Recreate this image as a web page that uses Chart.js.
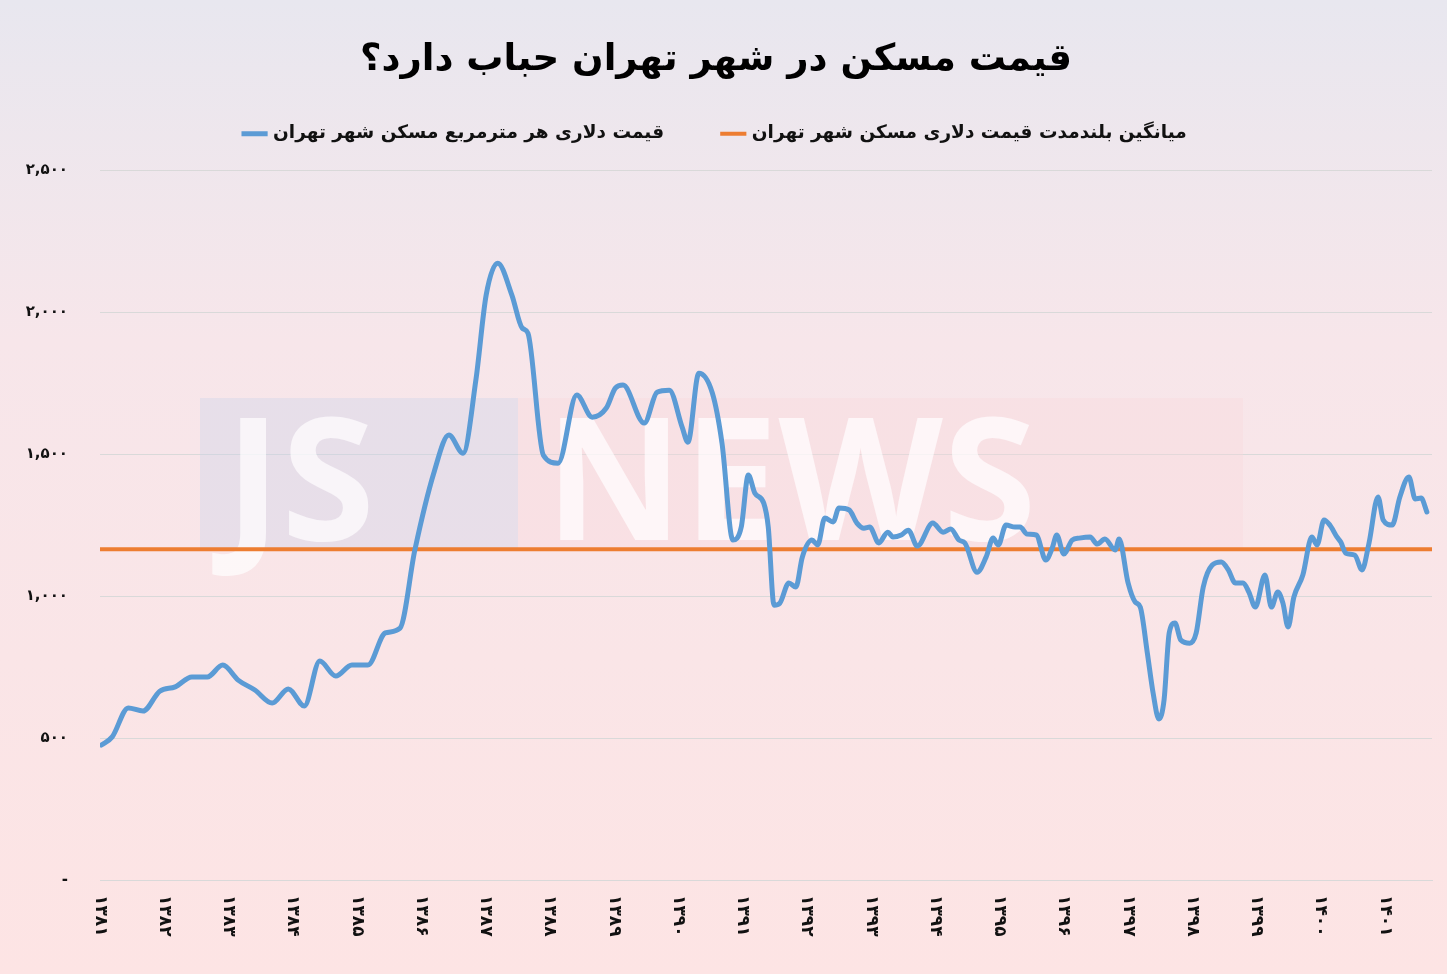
<!DOCTYPE html>
<html>
<head>
<meta charset="utf-8">
<script src="https://cdn.jsdelivr.net/npm/chart.js@4"></script>
<style>
  html, body { margin: 0; padding: 0; }
  body {
    width: 1447px; height: 974px; overflow: hidden;
    background: linear-gradient(#e8e7ef 0%, #f7e6ea 35%, #fde4e4 100%);
  }
  #wrap { position: absolute; left: 0; top: 0; width: 1447px; height: 974px; }
</style>
</head>
<body>
<div id="wrap"><canvas id="chart"></canvas></div>
<script>
const yearLabels = ["۱۳۸۱","۱۳۸۲","۱۳۸۳","۱۳۸۴","۱۳۸۵","۱۳۸۶","۱۳۸۷","۱۳۸۸","۱۳۸۹","۱۳۹۰",
  "۱۳۹۱","۱۳۹۲","۱۳۹۳","۱۳۹۴","۱۳۹۵","۱۳۹۶","۱۳۹۷","۱۳۹۸","۱۳۹۹","۱۴۰۰","۱۴۰۱"];
const firstYear = 1381;

const yTickLabels = { 0: "-", 500: "۵۰۰", 1000: "۱,۰۰۰", 1500: "۱,۵۰۰", 2000: "۲,۰۰۰", 2500: "۲,۵۰۰" };

const times = [1381.02,1381.19,1381.44,1381.67,1381.93,1382.17,1382.43,1382.67,1382.91,1383.15,
  1383.41,1383.68,1383.93,1384.18,1384.42,1384.67,1384.92,1385.17,1385.44,1385.67,
  1385.90,1386.20,1386.43,1386.65,1386.85,1387.01,1387.19,1387.41,1387.57,1387.66,
  1387.90,1388.13,1388.42,1388.66,1388.88,1389.02,1389.14,1389.47,1389.67,1389.86,
  1390.06,1390.15,1390.32,1390.53,1390.68,1390.85,1390.98,1391.09,1391.19,1391.33,
  1391.40,1391.49,1391.58,1391.72,1391.83,1391.93,1392.08,1392.17,1392.28,1392.41,
  1392.50,1392.66,1392.78,1392.89,1392.98,1393.12,1393.26,1393.34,1393.47,1393.58,
  1393.72,1393.96,1394.12,1394.24,1394.37,1394.46,1394.65,1394.79,1394.90,1394.98,
  1395.10,1395.24,1395.32,1395.43,1395.57,1395.72,1395.82,1395.89,1396.00,1396.13,
  1396.24,1396.41,1396.52,1396.64,1396.80,1396.86,1397.00,1397.11,1397.19,1397.30,
  1397.39,1397.48,1397.56,1397.64,1397.73,1397.82,1397.96,1398.06,1398.17,1398.31,
  1398.45,1398.56,1398.67,1398.79,1398.88,1398.98,1399.13,1399.23,1399.33,1399.41,
  1399.49,1399.58,1399.72,1399.86,1399.94,1400.05,1400.14,1400.25,1400.31,1400.39,
  1400.53,1400.64,1400.75,1400.89,1400.97,1401.11,1401.23,1401.37,1401.47,1401.56,
  1401.65];

const pricePerSqm = [475,504,606,595,665,680,715,715,757,704,
  669,623,673,613,771,718,757,757,870,887,
  1162,1437,1567,1503,1761,2060,2172,2060,1944,1926,
  1496,1468,1708,1630,1662,1732,1743,1609,1718,1725,
  1595,1542,1785,1715,1539,1197,1243,1426,1363,1327,
  1243,968,975,1046,1032,1137,1197,1180,1275,1261,
  1310,1303,1257,1239,1243,1187,1225,1208,1215,1232,
  1176,1257,1225,1236,1197,1187,1084,1137,1204,1180,
  1250,1243,1243,1218,1215,1127,1169,1215,1148,1197,
  1204,1208,1183,1201,1162,1201,1046,979,961,799,
  658,567,634,870,905,845,834,870,1032,1109,
  1120,1092,1046,1046,1014,961,1074,961,1014,975,
  891,996,1074,1208,1180,1268,1250,1208,1190,1151,
  1144,1092,1187,1349,1268,1250,1349,1419,1342,1345,
  1296];

const longRunAverage = 1165;
const avgSpan = [1381, 1401.73];

const watermark = {
  id: "watermark",
  beforeDatasetsDraw(chart) {
    const ctx = chart.ctx;
    ctx.save();
    ctx.fillStyle = "rgba(200,210,235,0.35)";
    ctx.fillRect(200, 398, 318, 150);
    ctx.fillStyle = "rgba(250,215,220,0.35)";
    ctx.fillRect(518, 398, 725, 150);
    ctx.fillStyle = "rgba(255,255,255,0.7)";
    ctx.font = "bold 170px 'Open Sans', 'DejaVu Sans'";
    ctx.textBaseline = "alphabetic";
    ctx.fillText("JS", 225, 540);
    ctx.fillText("NEWS", 545, 540);
    ctx.restore();
  }
};

const yearTicks = {
  id: "yearTicks",
  afterDraw(chart) {
    const ctx = chart.ctx;
    const xs = chart.scales.x;
    ctx.save();
    ctx.font = "bold 17px 'DejaVu Sans'";
    ctx.fillStyle = "#111";
    ctx.textBaseline = "middle";
    ctx.textAlign = "left";
    yearLabels.forEach((lab, i) => {
      const px = xs.getPixelForValue(firstYear + i);
      ctx.save();
      ctx.translate(px, 895);
      ctx.rotate(Math.PI / 2);
      ctx.fillText(lab, 0, 0);
      ctx.restore();
    });
    ctx.restore();
  }
};

new Chart(document.getElementById("chart"), {
  type: "line",
  plugins: [watermark, yearTicks],
  data: {
    datasets: [
      {
        label: "قیمت دلاری هر مترمربع مسکن شهر تهران",
        data: times.map((t, i) => ({ x: t, y: pricePerSqm[i] })),
        borderColor: "#5b9bd5",
        backgroundColor: "#5b9bd5",
        borderWidth: 5,
        pointRadius: 0,
        cubicInterpolationMode: "monotone",
        borderCapStyle: "round",
        borderJoinStyle: "round"
      },
      {
        label: "میانگین بلندمدت قیمت دلاری مسکن شهر تهران",
        data: avgSpan.map(t => ({ x: t, y: longRunAverage })),
        borderColor: "#ed7d31",
        backgroundColor: "#ed7d31",
        borderWidth: 4,
        pointRadius: 0
      }
    ]
  },
  options: {
    responsive: true,
    maintainAspectRatio: false,
    animation: false,
    layout: { padding: { left: 0, right: 15, top: 0, bottom: 0 } },
    plugins: {
      title: {
        display: true,
        text: "قیمت مسکن در شهر تهران حباب دارد؟",
        color: "#000",
        font: { family: "'DejaVu Sans'", size: 37, weight: "bold" },
        padding: { top: 38, bottom: -18 }
      },
      subtitle: {
        display: true,
        text: "",
        weight: 500,
        font: { size: 1 },
        padding: { top: 0, bottom: 16 }
      },
      legend: {
        labels: {
          color: "#111",
          font: { family: "'DejaVu Sans'", size: 18.5, weight: "bold" },
          usePointStyle: true,
          pointStyle: "line",
          boxWidth: 30,
          padding: 60
        }
      },
      tooltip: { enabled: false }
    },
    scales: {
      x: {
        type: "linear",
        min: 1381,
        max: 1401.73,
        grid: { display: false },
        border: { display: true, color: "#d9d9d9" },
        ticks: { display: false },
        afterFit(scale) { scale.height = 94; }
      },
      y: {
        min: 0,
        max: 2500,
        grid: { color: "#d9d9d9", drawTicks: false },
        border: { display: false },
        ticks: {
          stepSize: 500,
          padding: 32,
          color: "#111",
          font: { family: "'DejaVu Sans'", size: 15, weight: "bold" },
          callback: v => yTickLabels[v]
        },
        afterFit(scale) { scale.width = 100; }
      }
    }
  }
});
</script>
</body>
</html>
